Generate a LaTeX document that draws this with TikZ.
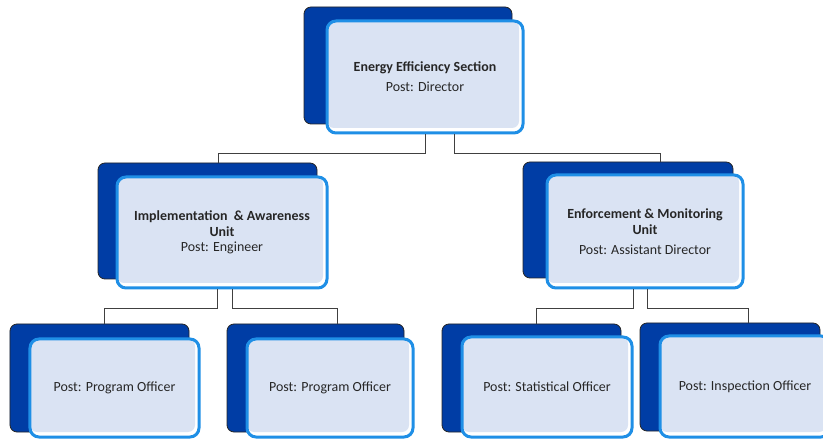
\documentclass[tikz,border=0pt]{standalone}
\usepackage{fontspec}
\setmainfont{Carlito}
\definecolor{cardback}{HTML}{003DA5}
\definecolor{cardfill}{HTML}{DAE3F3}
\definecolor{cardline}{HTML}{1F8FE6}
\definecolor{txtcol}{HTML}{262626}
\tikzset{
  backbox/.style={draw=black!85, line width=0.8bp, fill=cardback, rounded corners=7bp},
  frontbox/.style={draw=cardline, line width=3bp, fill=white, rounded corners=9bp,
    align=center, text=txtcol, font=\fontsize{14}{15.5}\selectfont,
    path picture={\fill[cardfill, rounded corners=7bp]
      (path picture bounding box.north west) rectangle
      ([xshift=-4bp, yshift=5bp]path picture bounding box.south east);}},
  link/.style={draw=black!75, line width=0.9bp}
}
\begin{document}
\begin{tikzpicture}[x=1bp, y=-1bp]
    \useasboundingbox (0,0) rectangle (823,439);
    \clip (0,0) rectangle (823,439);

    % back cards
    \node[backbox, minimum width=208bp, minimum height=117bp] (topBack) at (408,65.5) {};
    \node[backbox, minimum width=219bp, minimum height=116bp] (midLBack) at (207.5,221) {};
    \node[backbox, minimum width=210bp, minimum height=116bp] (midRBack) at (628,220) {};
    \node[backbox, minimum width=179bp, minimum height=108bp] (botABack) at (99.5,378) {};
    \node[backbox, minimum width=177bp, minimum height=108bp] (botBBack) at (315.5,378) {};
    \node[backbox, minimum width=179bp, minimum height=108bp] (botCBack) at (531.5,378) {};
    \node[backbox, minimum width=180bp, minimum height=108bp] (botDBack) at (730,377) {};

    % front cards
    \node[frontbox, minimum width=196bp, minimum height=112bp] (top) at (425,77)
      {\textbf{Energy Efficiency Section}\\[4.5bp] Post: Director};
    \node[frontbox, minimum width=210bp, minimum height=111bp] (midL) at (222,232.5)
      {\textbf{Implementation \ \& Awareness}\\ \textbf{Unit}\\ Post: Engineer};
    \node[frontbox, minimum width=196bp, minimum height=113bp] (midR) at (645,231.5)
      {\textbf{Enforcement \& Monitoring}\\ \textbf{Unit}\\[4.5bp] Post: Assistant Director};
    \node[frontbox, minimum width=169bp, minimum height=98bp] (botA) at (114.5,388) {Post: Program Officer};
    \node[frontbox, minimum width=166bp, minimum height=98bp] (botB) at (330,388) {Post: Program Officer};
    \node[frontbox, minimum width=170bp, minimum height=100bp] (botC) at (547,387) {Post: Statistical Officer};
    \node[frontbox, minimum width=170bp, minimum height=101bp] (botD) at (745,386.5) {Post: Inspection Officer};

    % connectors
    \coordinate (jTopL) at (218,153);
    \coordinate (jTopR) at (660,153);
    \draw[link] (top.south) |- (jTopL) -- (jTopL |- midLBack.north);
    \draw[link] ([xshift=29bp]top.south) |- (jTopR) -- (jTopR |- midRBack.north);

    \coordinate (jLA) at (104,308);
    \coordinate (jLB) at (337,308);
    \draw[link] ([xshift=-5bp]midL.south) |- (jLA) -- (jLA |- botABack.north);
    \draw[link] ([xshift=10bp]midL.south) |- (jLB) -- (jLB |- botBBack.north);

    \coordinate (jRC) at (536,308);
    \coordinate (jRD) at (748,308);
    \draw[link] ([xshift=-12bp]midR.south) |- (jRC) -- (jRC |- botCBack.north);
    \draw[link] ([xshift=2bp]midR.south) |- (jRD) -- (jRD |- botDBack.north);

\end{tikzpicture}
\end{document}
